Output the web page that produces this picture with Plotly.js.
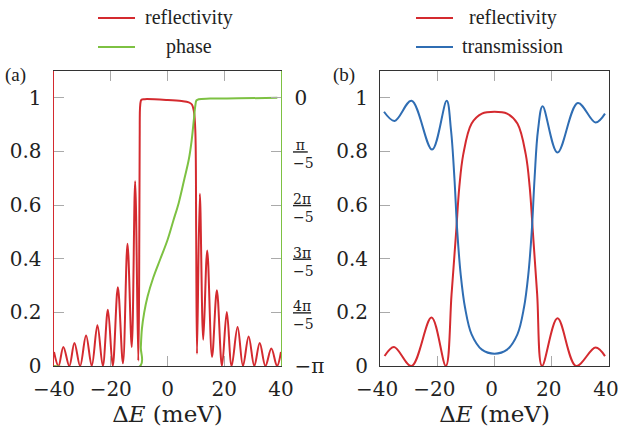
<!DOCTYPE html>
<html>
<head>
<meta charset="utf-8">
<script src="https://cdn.plot.ly/plotly-3.0.1.min.js"></script>
<style>html,body{margin:0;padding:0;background:#fff;}#chart{width:619px;height:437px;}</style>
</head>
<body>
<div id="chart"></div>
<script>
// ---- Panel (a): reflectivity and phase ----
const aRefX = [-40, -38.4, -36.7, -34.6, -32.8, -30.8, -28.7, -26.7, -24.7, -22.8, -21.0, -19.3, -17.5, -15.7, -14.1, -12.6, -11.4, -10.3,
  -10.0, -9.8, -9.6, -9.2, -8.0, 0, 5, 7.5, 8.6, 9.3, 9.8, 10.1, 10.4,
  11.4, 12.6, 14.0, 15.7, 17.4, 19.2, 20.9, 22.6, 24.7, 26.6, 28.6, 30.6, 32.5, 34.5, 36.6, 38.6, 40];
const aRefY = [0.052, 0, 0.071, 0, 0.086, 0, 0.114, 0, 0.152, 0, 0.21, 0, 0.294, 0.01, 0.456, 0.071, 0.689, 0.02,
  0.3, 0.85, 0.975, 0.993, 0.995, 0.992, 0.988, 0.983, 0.975, 0.95, 0.88, 0.5, 0.046,
  0.642, 0.098, 0.431, 0.034, 0.282, 0, 0.201, 0, 0.145, 0, 0.11, 0, 0.086, 0, 0.065, 0, 0.052];

const aPhaseX = [-40, -9.6, -9.4, -9.0, -8.2, -7.0, -5.0, -2.5, 0, 2, 4, 6, 7.5, 8.5, 9.3, 9.8, 10.2, 11, 15, 25, 38.7];
const aPhaseY = [-3.1416, -3.1416, -2.922, -2.702, -2.513, -2.325, -2.105, -1.885, -1.665, -1.445, -1.225, -0.942, -0.723, -0.503, -0.251, -0.094, -0.031, -0.016, -0.009, -0.006, 0];

const phaseTickVals = [-Math.PI, -4*Math.PI/5, -3*Math.PI/5, -2*Math.PI/5, -Math.PI/5, 0];
const phaseEndText = ['\u2212\u03c0', '', '', '', '', '0'];
const phaseFracVals = [-4*Math.PI/5, -3*Math.PI/5, -2*Math.PI/5, -Math.PI/5];
const phaseFracText = ['<u>4\u03c0</u><br>\u22125', '<u>3\u03c0</u><br>\u22125', '<u>2\u03c0</u><br>\u22125', '<u>\u2009\u03c0\u2009</u><br>\u22125'];

// ---- Panel (b): reflectivity and transmission ----
const bRefX = [-38.4, -35.1, -29.0, -22.0, -17.0, -15.0, -13.4, -12.3, -10.9, -8.0, -4.4, 0, 4.4, 8.0, 10.9, 12.3, 13.4, 14.9, 16.6, 22.0, 28.5, 35.3, 38.6];
const bRefY = [0.037, 0.071, 0, 0.181, 0, 0.268, 0.5, 0.667, 0.79, 0.904, 0.941, 0.948, 0.941, 0.904, 0.79, 0.667, 0.5, 0.268, 0, 0.178, 0, 0.069, 0.037];

const bTransX = [-38.6, -34.9, -29.0, -21.8, -16.7, -15.2, -14.0, -13.0, -11.8, -10.3, -8.0, -4.4, 0, 4.4, 8.0, 10.3, 11.8, 13.0, 14.0, 15.2, 16.8, 22.0, 29.1, 35.3, 38.6];
const bTransY = [0.948, 0.914, 0.989, 0.807, 0.989, 0.88, 0.70, 0.50, 0.34, 0.218, 0.118, 0.061, 0.046, 0.061, 0.118, 0.218, 0.34, 0.50, 0.70, 0.88, 0.969, 0.796, 0.981, 0.908, 0.941];

const xTickVals = [-40, -20, 0, 20, 40];
const xTickText = ['\u221240', '\u221220', '0', '20', '40'];

const RED = '#d42a2f', GREEN = '#7dc142', BLUE = '#2f6db3';
const FONT = '"DejaVu Serif", "Liberation Serif", serif';
const FONT2 = '"Liberation Serif", "DejaVu Serif", serif';

const traces = [
  {x: aRefX, y: aRefY, xaxis: 'x', yaxis: 'y', mode: 'lines', name: 'reflectivity',
   line: {color: RED, width: 2, shape: 'spline', smoothing: 1}},
  {x: aPhaseX, y: aPhaseY, xaxis: 'x', yaxis: 'y2', mode: 'lines', name: 'phase',
   line: {color: GREEN, width: 2, shape: 'spline', smoothing: 1}},
  {x: bRefX, y: bRefY, xaxis: 'x2', yaxis: 'y3', mode: 'lines', name: 'reflectivity',
   line: {color: RED, width: 2, shape: 'spline', smoothing: 1}},
  {x: bTransX, y: bTransY, xaxis: 'x2', yaxis: 'y3', mode: 'lines', name: 'transmission',
   line: {color: BLUE, width: 2, shape: 'spline', smoothing: 1}}
];

const tickCommon = {
  ticks: 'inside', ticklen: 10, tickwidth: 1, tickcolor: '#aaaaaa',
  showgrid: false, zeroline: false, showline: true, ticklabeloverflow: 'allow',
  tickfont: {family: FONT, size: 20, color: '#222'}
};
const xTitle = {text: '\u0394<i>E</i> (meV)', font: {family: FONT, size: 23, color: '#222'}, standoff: 2};

// plot-area pixel geometry -> paper coords
const P = {l: 54, t: 71, w: 555, h: 295};
const px = v => (v - P.l) / P.w;
const py = v => (P.t + P.h - v) / P.h;

// phase label axis: nudged by FRAC_LIFT pixels so each stacked fraction is centred on its tick
const PHASE_RANGE = [-Math.PI, 0.1 * Math.PI];
const FRAC_LIFT = -3;
const liftRad = FRAC_LIFT / P.h * (PHASE_RANGE[1] - PHASE_RANGE[0]);

// manual legend
const legendRows = [18, 47];
const legendItems = [
  {x0: 98, x1: 135, row: 0, color: RED, label: 'reflectivity', tx: 143},
  {x0: 98, x1: 135, row: 1, color: GREEN, label: 'phase', tx: 164},
  {x0: 416, x1: 453, row: 0, color: RED, label: 'reflectivity', tx: 467},
  {x0: 416, x1: 453, row: 1, color: BLUE, label: 'transmission', tx: 460}
];
const shapes = legendItems.map(it => ({type: 'line', xref: 'paper', yref: 'paper',
  x0: px(it.x0), x1: px(it.x1), y0: py(legendRows[it.row]), y1: py(legendRows[it.row]),
  line: {color: it.color, width: 2}}));
const annotations = legendItems.map(it => ({text: it.label, xref: 'paper', yref: 'paper',
  x: px(it.tx), y: py(legendRows[it.row] - 1), xanchor: 'left', yanchor: 'middle', showarrow: false,
  font: {family: FONT2, size: 20, color: '#222'}}));
annotations.push(
  {text: '(a)', xref: 'paper', yref: 'paper', x: px(15), y: py(75), xanchor: 'center', yanchor: 'middle',
   showarrow: false, font: {family: FONT2, size: 19, color: '#222'}},
  {text: '(b)', xref: 'paper', yref: 'paper', x: px(344), y: py(75), xanchor: 'center', yanchor: 'middle',
   showarrow: false, font: {family: FONT2, size: 19, color: '#222'}}
);

const layout = {
  width: 619, height: 437,
  margin: {l: 54, r: 10, t: 71, b: 71},
  paper_bgcolor: '#fff', plot_bgcolor: '#fff',
  font: {family: FONT, color: '#222'},
  showlegend: false,
  xaxis: Object.assign({}, tickCommon, {domain: [0, 0.409], range: [-40, 40], anchor: 'y',
    tickmode: 'array', tickvals: xTickVals, ticktext: xTickText,
    mirror: 'ticks', linecolor: '#333', linewidth: 1, ticklabelstandoff: 5, title: xTitle}),
  yaxis: Object.assign({}, tickCommon, {domain: [0, 1], range: [0, 1.1], dtick: 0.2, tick0: 0, anchor: 'x',
    linecolor: RED, linewidth: 1.5, mirror: false, ticklabelstandoff: 7}),
  yaxis2: Object.assign({}, tickCommon, {overlaying: 'y', side: 'right', anchor: 'x', range: PHASE_RANGE,
    tickmode: 'array', tickvals: phaseTickVals, ticktext: phaseEndText, linecolor: GREEN, linewidth: 1.5,
    ticklabelstandoff: 8}),
  yaxis4: Object.assign({}, tickCommon, {overlaying: 'y', side: 'right', anchor: 'x',
    range: [PHASE_RANGE[0] - liftRad, PHASE_RANGE[1] - liftRad], ticks: '',
    tickmode: 'array', tickvals: phaseFracVals, ticktext: phaseFracText, showline: false,
    tickfont: {family: FONT, size: 14, color: '#222'}, ticklabelstandoff: 11}),
  xaxis2: Object.assign({}, tickCommon, {domain: [0.5874, 1], range: [-40, 40], anchor: 'y3',
    tickmode: 'array', tickvals: xTickVals, ticktext: xTickText, ticklabelshift: -3,
    mirror: 'ticks', linecolor: '#333', linewidth: 1, ticklabelstandoff: 5, title: xTitle}),
  yaxis3: Object.assign({}, tickCommon, {domain: [0, 1], range: [0, 1.1], dtick: 0.2, tick0: 0, anchor: 'x2',
    linecolor: '#333', linewidth: 1, mirror: true, ticklabelstandoff: 7}),
  shapes: shapes,
  annotations: annotations
};

// invisible helper trace so the fraction-label axis (yaxis4) is created
traces.push({x: [0], y: [0], xaxis: 'x', yaxis: 'y4', mode: 'markers', marker: {opacity: 0}, hoverinfo: 'skip', showlegend: false});

Plotly.newPlot('chart', traces, layout, {staticPlot: true, displayModeBar: false});
</script>
</body>
</html>
